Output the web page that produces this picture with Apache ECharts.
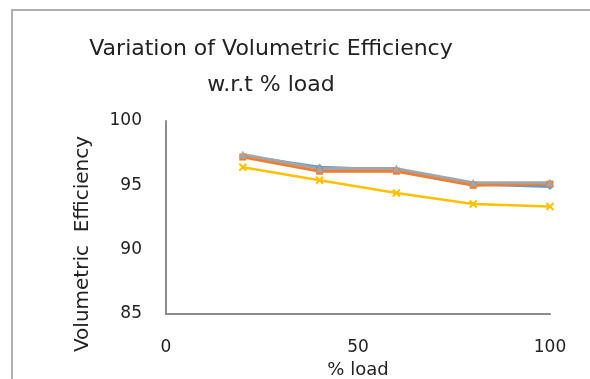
<!DOCTYPE html>
<html>
<head>
<meta charset="utf-8">
<script src="https://cdn.jsdelivr.net/npm/echarts@6/dist/echarts.min.js"></script>
<style>
  html, body { margin: 0; padding: 0; background: #fff; }
  #chart { width: 590px; height: 379px; }
</style>
</head>
<body>
<div id="chart"></div>
<script>
// % load values
const loads = [20, 40, 60, 80, 100];
// volumetric efficiency for each run
const seriesBlue = [97.3, 96.4, 96.2, 95.1, 94.9];
const seriesOrange = [97.2, 96.1, 96.1, 95.0, 95.1];
const seriesGray = [97.4, 96.3, 96.3, 95.2, 95.2];
const seriesYellow = [96.4, 95.4, 94.4, 93.55, 93.35];

const xTicks = [0, 50, 100];
const yTicks = [85, 90, 95, 100];

const pairs = (vals) => loads.map((x, i) => [x, vals[i]]);
const font = "DejaVu Sans";

const chart = echarts.init(document.getElementById("chart"));
const option = {
  animation: false,
  title: {
    text: "Variation of Volumetric Efficiency\nw.r.t % load",
    left: 266,
    top: 26,
    textAlign: "center",
    textStyle: {
      fontFamily: font,
      fontSize: 22,
      fontWeight: "normal",
      color: "#222",
      lineHeight: 36,
    },
  },
  graphic: [
    {
      type: "rect",
      shape: { x: 12, y: 10, width: 600, height: 400 },
      style: { fill: "none", stroke: "#b0b0b0", lineWidth: 2 },
      silent: true,
    },
    {
      // y axis title, sits a little below the plot's middle
      type: "text",
      x: 83,
      y: 244,
      rotation: Math.PI / 2,
      style: {
        text: "Volumetric  Efficiency",
        fontFamily: font,
        fontSize: 20,
        fill: "#222",
        textAlign: "center",
        textVerticalAlign: "middle",
      },
      silent: true,
    },
  ],
  grid: { left: 166, top: 121, right: 40, bottom: 65, outerBoundsMode: "none" },
  xAxis: {
    type: "value",
    min: 0,
    max: 100,
    interval: 50,
    name: "% load",
    nameLocation: "middle",
    nameGap: 46,
    nameTextStyle: { fontFamily: font, fontSize: 18, color: "#222" },
    axisLine: { lineStyle: { color: "#8c8c8c", width: 2 } },
    axisTick: { show: false },
    splitLine: { show: false },
    axisLabel: {
      margin: 25,
      fontFamily: font,
      fontSize: 17,
      color: "#222",
      formatter: (v) => (xTicks.includes(v) ? String(v) : ""),
    },
  },
  yAxis: {
    type: "value",
    min: 85,
    max: 100,
    interval: 5,
    axisLine: { show: true, lineStyle: { color: "#8c8c8c", width: 2 } },
    axisTick: { show: false },
    splitLine: { show: false },
    axisLabel: {
      margin: 24,
      fontFamily: font,
      fontSize: 17,
      color: "#222",
      formatter: (v) => (yTicks.includes(v) ? String(v) : ""),
    },
  },
  series: [
    {
      type: "line",
      data: pairs(seriesBlue),
      symbol: "diamond",
      symbolSize: 7,
      lineStyle: { color: "#5b9bd5", width: 3 },
      itemStyle: { color: "#5b9bd5" },
    },
    {
      type: "line",
      data: pairs(seriesOrange),
      symbol: "rect",
      symbolSize: 7,
      lineStyle: { color: "#ed7d31", width: 3 },
      itemStyle: { color: "#ed7d31" },
    },
    {
      type: "line",
      data: pairs(seriesGray),
      symbol: "triangle",
      symbolSize: 8,
      lineStyle: { color: "#a5a5a5", width: 3 },
      itemStyle: { color: "#a5a5a5" },
    },
    {
      type: "line",
      data: pairs(seriesYellow),
      symbol: "path://M0,0L10,10M10,0L0,10",
      symbolSize: 7,
      lineStyle: { color: "#ffc000", width: 2.5 },
      itemStyle: { color: "none", borderColor: "#ffc000", borderWidth: 2 },
    },
  ],
};
chart.setOption(option);
</script>
</body>
</html>
